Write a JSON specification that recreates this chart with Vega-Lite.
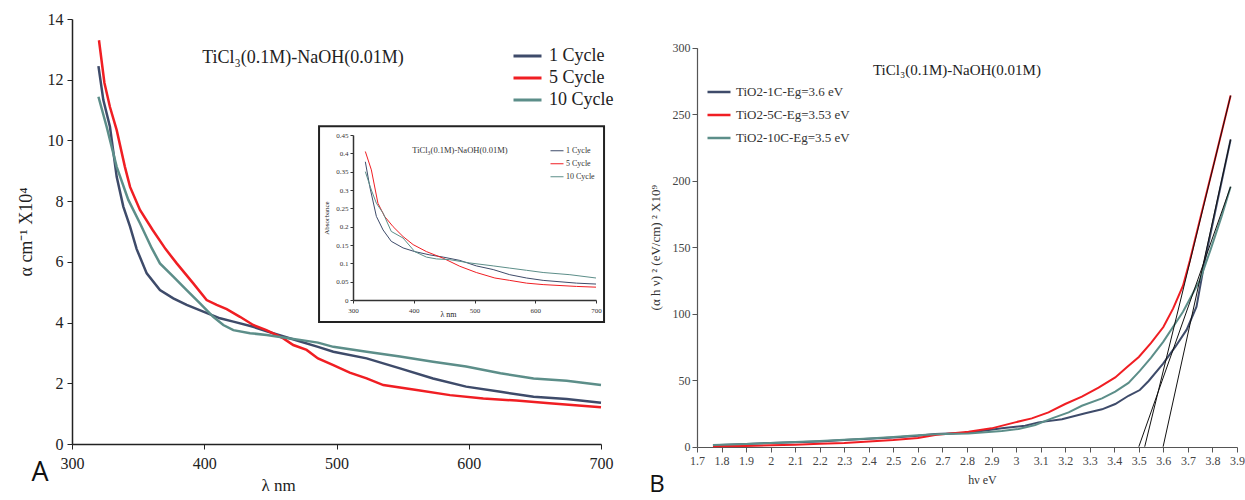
{
  "$schema": "https://vega.github.io/schema/vega-lite/v6.json",
  "width": 1245,
  "height": 500,
  "autosize": "none",
  "padding": 0,
  "background": "white",
  "config": {"view": {"stroke": null}, "font": "Liberation Serif, serif", "axis": {"grid": false, "labelFlush": false}},
  "datasets": {
    "A": [
      {"s":"1 Cycle","x":320,"y":12.45},{"s":"1 Cycle","x":323.7,"y":11.33},{"s":"1 Cycle","x":328.7,"y":10.45},{"s":"1 Cycle","x":333.8,"y":8.8},{"s":"1 Cycle","x":338.8,"y":7.82},{"s":"1 Cycle","x":343.9,"y":7.16},{"s":"1 Cycle","x":348.9,"y":6.42},{"s":"1 Cycle","x":356.5,"y":5.62},{"s":"1 Cycle","x":366.5,"y":5.07},{"s":"1 Cycle","x":376.6,"y":4.8},{"s":"1 Cycle","x":386.7,"y":4.58},{"s":"1 Cycle","x":399.3,"y":4.36},{"s":"1 Cycle","x":411.9,"y":4.14},{"s":"1 Cycle","x":422,"y":4.03},{"s":"1 Cycle","x":437,"y":3.86},{"s":"1 Cycle","x":452,"y":3.65},{"s":"1 Cycle","x":467,"y":3.45},{"s":"1 Cycle","x":486,"y":3.2},{"s":"1 Cycle","x":497.6,"y":3.04},{"s":"1 Cycle","x":522.8,"y":2.82},{"s":"1 Cycle","x":548,"y":2.49},{"s":"1 Cycle","x":573,"y":2.16},{"s":"1 Cycle","x":598,"y":1.89},{"s":"1 Cycle","x":624,"y":1.72},{"s":"1 Cycle","x":649,"y":1.56},{"s":"1 Cycle","x":674,"y":1.48},{"s":"1 Cycle","x":700,"y":1.36},
      {"s":"5 Cycle","x":320.4,"y":13.3},{"s":"5 Cycle","x":324.5,"y":11.9},{"s":"5 Cycle","x":328.7,"y":11.1},{"s":"5 Cycle","x":333.8,"y":10.34},{"s":"5 Cycle","x":340,"y":9.13},{"s":"5 Cycle","x":343.9,"y":8.47},{"s":"5 Cycle","x":351.4,"y":7.71},{"s":"5 Cycle","x":361,"y":7.05},{"s":"5 Cycle","x":370.8,"y":6.42},{"s":"5 Cycle","x":379.2,"y":5.95},{"s":"5 Cycle","x":391.7,"y":5.29},{"s":"5 Cycle","x":401.8,"y":4.74},{"s":"5 Cycle","x":409.4,"y":4.58},{"s":"5 Cycle","x":417,"y":4.44},{"s":"5 Cycle","x":427,"y":4.19},{"s":"5 Cycle","x":437,"y":3.92},{"s":"5 Cycle","x":447,"y":3.75},{"s":"5 Cycle","x":459.8,"y":3.48},{"s":"5 Cycle","x":467.3,"y":3.26},{"s":"5 Cycle","x":477.4,"y":3.1},{"s":"5 Cycle","x":486,"y":2.82},{"s":"5 Cycle","x":497.6,"y":2.6},{"s":"5 Cycle","x":510,"y":2.35},{"s":"5 Cycle","x":522.8,"y":2.16},{"s":"5 Cycle","x":535.4,"y":1.94},{"s":"5 Cycle","x":560.6,"y":1.78},{"s":"5 Cycle","x":585.8,"y":1.61},{"s":"5 Cycle","x":611,"y":1.5},{"s":"5 Cycle","x":636,"y":1.43},{"s":"5 Cycle","x":661,"y":1.34},{"s":"5 Cycle","x":700,"y":1.21},
      {"s":"10 Cycle","x":320,"y":11.44},{"s":"10 Cycle","x":326.2,"y":10.45},{"s":"10 Cycle","x":333.8,"y":9.13},{"s":"10 Cycle","x":342.6,"y":8.04},{"s":"10 Cycle","x":351.4,"y":7.27},{"s":"10 Cycle","x":360.3,"y":6.45},{"s":"10 Cycle","x":366.5,"y":5.95},{"s":"10 Cycle","x":376.6,"y":5.51},{"s":"10 Cycle","x":386.7,"y":5.07},{"s":"10 Cycle","x":396.8,"y":4.63},{"s":"10 Cycle","x":406.8,"y":4.19},{"s":"10 Cycle","x":414.4,"y":3.92},{"s":"10 Cycle","x":422,"y":3.75},{"s":"10 Cycle","x":434.6,"y":3.65},{"s":"10 Cycle","x":447.2,"y":3.59},{"s":"10 Cycle","x":459.8,"y":3.51},{"s":"10 Cycle","x":472.4,"y":3.43},{"s":"10 Cycle","x":486,"y":3.34},{"s":"10 Cycle","x":497.6,"y":3.2},{"s":"10 Cycle","x":522.8,"y":3.04},{"s":"10 Cycle","x":548,"y":2.88},{"s":"10 Cycle","x":573,"y":2.71},{"s":"10 Cycle","x":598,"y":2.55},{"s":"10 Cycle","x":624,"y":2.33},{"s":"10 Cycle","x":649,"y":2.16},{"s":"10 Cycle","x":674,"y":2.08},{"s":"10 Cycle","x":700,"y":1.94}
    ],
    "inset": [
      {"s":"1 Cycle","x":320.3,"y":0.377},{"s":"1 Cycle","x":327.5,"y":0.31},{"s":"1 Cycle","x":338.5,"y":0.228},{"s":"1 Cycle","x":349.5,"y":0.191},{"s":"1 Cycle","x":363,"y":0.16},{"s":"1 Cycle","x":382.4,"y":0.142},{"s":"1 Cycle","x":401.6,"y":0.132},{"s":"1 Cycle","x":426.4,"y":0.123},{"s":"1 Cycle","x":448.4,"y":0.117},{"s":"1 Cycle","x":475.8,"y":0.108},{"s":"1 Cycle","x":503,"y":0.093},{"s":"1 Cycle","x":530.8,"y":0.083},{"s":"1 Cycle","x":558,"y":0.069},{"s":"1 Cycle","x":585.7,"y":0.06},{"s":"1 Cycle","x":613,"y":0.0535},{"s":"1 Cycle","x":668,"y":0.046},{"s":"1 Cycle","x":700,"y":0.0435},
      {"s":"5 Cycle","x":320.3,"y":0.405},{"s":"5 Cycle","x":330.2,"y":0.355},{"s":"5 Cycle","x":341,"y":0.264},{"s":"5 Cycle","x":352,"y":0.228},{"s":"5 Cycle","x":366,"y":0.2},{"s":"5 Cycle","x":382.4,"y":0.173},{"s":"5 Cycle","x":399,"y":0.151},{"s":"5 Cycle","x":420.9,"y":0.132},{"s":"5 Cycle","x":448.4,"y":0.114},{"s":"5 Cycle","x":475.8,"y":0.092},{"s":"5 Cycle","x":503,"y":0.075},{"s":"5 Cycle","x":533.5,"y":0.06},{"s":"5 Cycle","x":558,"y":0.0535},{"s":"5 Cycle","x":585.7,"y":0.046},{"s":"5 Cycle","x":613,"y":0.042},{"s":"5 Cycle","x":668,"y":0.037},{"s":"5 Cycle","x":700,"y":0.035},
      {"s":"10 Cycle","x":320.3,"y":0.35},{"s":"10 Cycle","x":330.2,"y":0.3},{"s":"10 Cycle","x":338.5,"y":0.264},{"s":"10 Cycle","x":349.5,"y":0.237},{"s":"10 Cycle","x":363,"y":0.187},{"s":"10 Cycle","x":382.4,"y":0.169},{"s":"10 Cycle","x":401.6,"y":0.132},{"s":"10 Cycle","x":420.9,"y":0.117},{"s":"10 Cycle","x":437.4,"y":0.112},{"s":"10 Cycle","x":459.3,"y":0.11},{"s":"10 Cycle","x":492.3,"y":0.101},{"s":"10 Cycle","x":530.8,"y":0.093},{"s":"10 Cycle","x":558,"y":0.087},{"s":"10 Cycle","x":585.7,"y":0.081},{"s":"10 Cycle","x":613,"y":0.075},{"s":"10 Cycle","x":657,"y":0.069},{"s":"10 Cycle","x":700,"y":0.06}
    ],
    "B": [
      {"s":"TiO2-1C-Eg=3.6 eV","x":1.765,"y":1.0},{"s":"TiO2-1C-Eg=3.6 eV","x":1.9,"y":2.0},{"s":"TiO2-1C-Eg=3.6 eV","x":2.0,"y":2.8},{"s":"TiO2-1C-Eg=3.6 eV","x":2.1,"y":3.3},{"s":"TiO2-1C-Eg=3.6 eV","x":2.2,"y":4.0},{"s":"TiO2-1C-Eg=3.6 eV","x":2.3,"y":5.0},{"s":"TiO2-1C-Eg=3.6 eV","x":2.4,"y":6.0},{"s":"TiO2-1C-Eg=3.6 eV","x":2.5,"y":7.0},{"s":"TiO2-1C-Eg=3.6 eV","x":2.6,"y":8.3},{"s":"TiO2-1C-Eg=3.6 eV","x":2.67,"y":9.5},{"s":"TiO2-1C-Eg=3.6 eV","x":2.806,"y":10.5},{"s":"TiO2-1C-Eg=3.6 eV","x":2.942,"y":13.8},{"s":"TiO2-1C-Eg=3.6 eV","x":3.037,"y":15.8},{"s":"TiO2-1C-Eg=3.6 eV","x":3.091,"y":18.3},{"s":"TiO2-1C-Eg=3.6 eV","x":3.187,"y":20.6},{"s":"TiO2-1C-Eg=3.6 eV","x":3.282,"y":25.1},{"s":"TiO2-1C-Eg=3.6 eV","x":3.35,"y":28.1},{"s":"TiO2-1C-Eg=3.6 eV","x":3.404,"y":32.1},{"s":"TiO2-1C-Eg=3.6 eV","x":3.458,"y":38.3},{"s":"TiO2-1C-Eg=3.6 eV","x":3.504,"y":42.6},{"s":"TiO2-1C-Eg=3.6 eV","x":3.54,"y":49.4},{"s":"TiO2-1C-Eg=3.6 eV","x":3.599,"y":62.5},{"s":"TiO2-1C-Eg=3.6 eV","x":3.649,"y":75.2},{"s":"TiO2-1C-Eg=3.6 eV","x":3.695,"y":88},{"s":"TiO2-1C-Eg=3.6 eV","x":3.735,"y":105.3},{"s":"TiO2-1C-Eg=3.6 eV","x":3.769,"y":140},{"s":"TiO2-1C-Eg=3.6 eV","x":3.823,"y":187},{"s":"TiO2-1C-Eg=3.6 eV","x":3.874,"y":231},
      {"s":"TiO2-5C-Eg=3.53 eV","x":1.765,"y":0.3},{"s":"TiO2-5C-Eg=3.53 eV","x":1.9,"y":0.6},{"s":"TiO2-5C-Eg=3.53 eV","x":2.0,"y":1.0},{"s":"TiO2-5C-Eg=3.53 eV","x":2.1,"y":1.4},{"s":"TiO2-5C-Eg=3.53 eV","x":2.2,"y":2.2},{"s":"TiO2-5C-Eg=3.53 eV","x":2.3,"y":2.8},{"s":"TiO2-5C-Eg=3.53 eV","x":2.4,"y":4.0},{"s":"TiO2-5C-Eg=3.53 eV","x":2.5,"y":5.0},{"s":"TiO2-5C-Eg=3.53 eV","x":2.6,"y":6.5},{"s":"TiO2-5C-Eg=3.53 eV","x":2.67,"y":8.8},{"s":"TiO2-5C-Eg=3.53 eV","x":2.806,"y":11.3},{"s":"TiO2-5C-Eg=3.53 eV","x":2.9,"y":13.8},{"s":"TiO2-5C-Eg=3.53 eV","x":2.996,"y":18.3},{"s":"TiO2-5C-Eg=3.53 eV","x":3.064,"y":21.3},{"s":"TiO2-5C-Eg=3.53 eV","x":3.132,"y":25.8},{"s":"TiO2-5C-Eg=3.53 eV","x":3.2,"y":32.1},{"s":"TiO2-5C-Eg=3.53 eV","x":3.268,"y":37.6},{"s":"TiO2-5C-Eg=3.53 eV","x":3.336,"y":44.4},{"s":"TiO2-5C-Eg=3.53 eV","x":3.404,"y":52.1},{"s":"TiO2-5C-Eg=3.53 eV","x":3.45,"y":59.5},{"s":"TiO2-5C-Eg=3.53 eV","x":3.5,"y":67.5},{"s":"TiO2-5C-Eg=3.53 eV","x":3.55,"y":78},{"s":"TiO2-5C-Eg=3.53 eV","x":3.6,"y":90},{"s":"TiO2-5C-Eg=3.53 eV","x":3.64,"y":104},{"s":"TiO2-5C-Eg=3.53 eV","x":3.68,"y":121},{"s":"TiO2-5C-Eg=3.53 eV","x":3.708,"y":140},{"s":"TiO2-5C-Eg=3.53 eV","x":3.756,"y":176},{"s":"TiO2-5C-Eg=3.53 eV","x":3.81,"y":216},{"s":"TiO2-5C-Eg=3.53 eV","x":3.874,"y":264},
      {"s":"TiO2-10C-Eg=3.5 eV","x":1.765,"y":1.2},{"s":"TiO2-10C-Eg=3.5 eV","x":1.9,"y":2.0},{"s":"TiO2-10C-Eg=3.5 eV","x":2.0,"y":2.8},{"s":"TiO2-10C-Eg=3.5 eV","x":2.1,"y":3.5},{"s":"TiO2-10C-Eg=3.5 eV","x":2.2,"y":4.3},{"s":"TiO2-10C-Eg=3.5 eV","x":2.3,"y":5.3},{"s":"TiO2-10C-Eg=3.5 eV","x":2.4,"y":6.2},{"s":"TiO2-10C-Eg=3.5 eV","x":2.5,"y":7.3},{"s":"TiO2-10C-Eg=3.5 eV","x":2.6,"y":8.6},{"s":"TiO2-10C-Eg=3.5 eV","x":2.67,"y":9.3},{"s":"TiO2-10C-Eg=3.5 eV","x":2.806,"y":10.0},{"s":"TiO2-10C-Eg=3.5 eV","x":2.942,"y":11.8},{"s":"TiO2-10C-Eg=3.5 eV","x":3.01,"y":13.3},{"s":"TiO2-10C-Eg=3.5 eV","x":3.078,"y":16.3},{"s":"TiO2-10C-Eg=3.5 eV","x":3.146,"y":21.3},{"s":"TiO2-10C-Eg=3.5 eV","x":3.214,"y":25.8},{"s":"TiO2-10C-Eg=3.5 eV","x":3.268,"y":30.8},{"s":"TiO2-10C-Eg=3.5 eV","x":3.35,"y":36.3},{"s":"TiO2-10C-Eg=3.5 eV","x":3.404,"y":41.4},{"s":"TiO2-10C-Eg=3.5 eV","x":3.458,"y":48},{"s":"TiO2-10C-Eg=3.5 eV","x":3.504,"y":57},{"s":"TiO2-10C-Eg=3.5 eV","x":3.55,"y":67},{"s":"TiO2-10C-Eg=3.5 eV","x":3.6,"y":79},{"s":"TiO2-10C-Eg=3.5 eV","x":3.68,"y":101.5},{"s":"TiO2-10C-Eg=3.5 eV","x":3.749,"y":125.3},{"s":"TiO2-10C-Eg=3.5 eV","x":3.792,"y":148},{"s":"TiO2-10C-Eg=3.5 eV","x":3.837,"y":173},{"s":"TiO2-10C-Eg=3.5 eV","x":3.874,"y":195.5}
    ],
    "tangent": [
      {"s":"1C","x":3.599,"y":0},{"s":"1C","x":3.874,"y":231},
      {"s":"5C","x":3.524,"y":0},{"s":"5C","x":3.874,"y":264},
      {"s":"10C","x":3.5,"y":0},{"s":"10C","x":3.874,"y":195.5}
    ]
  },
  "resolve": {"scale": {"x": "independent", "y": "independent", "color": "independent"}},
  "layer": [
    {
      "layer": [
        {
          "data": {"name": "A"},
          "mark": {"type": "line", "strokeWidth": 2.5},
          "encoding": {
            "x": {"field": "x", "type": "quantitative",
              "scale": {"domain": [300, 700], "range": [72, 601], "nice": false, "zero": false},
              "axis": {"orient": "bottom", "offset": -56, "labelFlush": false, "values": [300, 400, 500, 600, 700], "title": "λ nm", "titleX": 278, "titleY": 33, "titleBaseline": "top", "titleFont": "Liberation Serif, serif", "titleFontSize": 17, "titleFontWeight": "normal", "titleColor": "#222", "labelFont": "Liberation Serif, serif", "labelFontSize": 16, "labelColor": "#222", "labelPadding": 6, "tickSize": 5, "tickColor": "#222", "domainColor": "#222", "domainWidth": 1.5, "grid": false}},
            "y": {"field": "y", "type": "quantitative",
              "scale": {"domain": [0, 14], "range": [444, 19], "nice": false, "zero": false},
              "axis": {"orient": "left", "offset": -72, "labelFlush": false, "values": [0, 2, 4, 6, 8, 10, 12, 14], "title": "α  cm⁻¹  X10⁴", "titlePadding": 12, "titleFont": "Liberation Serif, serif", "titleFontSize": 18, "titleFontWeight": "normal", "titleColor": "#222", "labelFont": "Liberation Serif, serif", "labelFontSize": 16, "labelColor": "#222", "labelPadding": 4, "tickSize": 5, "tickColor": "#222", "domainColor": "#222", "domainWidth": 1.5, "grid": false}},
            "color": {"field": "s", "type": "nominal",
              "scale": {"domain": ["1 Cycle", "5 Cycle", "10 Cycle"], "range": ["#3E4B6A", "#F01E23", "#5C8E89"]},
              "legend": {"orient": "none", "legendX": 512, "legendY": 45, "title": null, "padding": 0, "symbolType": "stroke", "symbolSize": 784, "symbolStrokeWidth": 3, "labelFont": "Liberation Serif, serif", "labelFontSize": 18, "labelFontWeight": "normal", "labelColor": "#222", "clipHeight": 22, "rowPadding": 0, "labelOffset": 6}}
          }
        },
        {
          "data": {"values": [{"x": 486.8, "x2": 702.3, "y": 4.02, "y2": 10.47}]},
          "mark": {"type": "rect", "fill": "white", "stroke": "#222", "strokeWidth": 2},
          "encoding": {
            "x": {"field": "x", "type": "quantitative"},
            "x2": {"field": "x2"},
            "y": {"field": "y", "type": "quantitative"},
            "y2": {"field": "y2"}
          }
        },
        {
          "data": {"values": [{"x": 474.7, "y": 12.71, "t": "TiCl₃(0.1M)-NaOH(0.01M)"}]},
          "mark": {"type": "text", "font": "Liberation Serif, serif", "fontSize": 18, "color": "#222", "align": "center", "baseline": "middle"},
          "encoding": {
            "x": {"field": "x", "type": "quantitative"},
            "y": {"field": "y", "type": "quantitative"},
            "text": {"field": "t"}
          }
        },
        {
          "data": {"values": [{"x": 275.8, "y": -0.95, "t": "A"}]},
          "mark": {"type": "text", "font": "Open Sans", "fontSize": 27, "color": "#111", "align": "center", "baseline": "middle"},
          "encoding": {
            "x": {"field": "x", "type": "quantitative"},
            "y": {"field": "y", "type": "quantitative"},
            "text": {"field": "t"}
          }
        }
      ]
    },
    {
      "layer": [
        {
          "data": {"name": "inset"},
          "mark": {"type": "line", "strokeWidth": 1},
          "encoding": {
            "x": {"field": "x", "type": "quantitative",
              "scale": {"domain": [300, 700], "range": [353, 596], "nice": false, "zero": false},
              "axis": {"orient": "bottom", "offset": -200, "zindex": 1, "labelFlush": false, "values": [300, 400, 500, 600, 700], "title": "λ nm", "titleX": 448, "titleY": 10, "titleBaseline": "top", "titleFont": "Liberation Serif, serif", "titleFontSize": 8, "titleFontWeight": "normal", "titleColor": "#222", "labelFont": "Liberation Serif, serif", "labelFontSize": 7, "labelColor": "#333", "labelPadding": 3, "tickSize": 3, "tickColor": "#333", "domainColor": "#333", "domainWidth": 1.5, "grid": false}},
            "y": {"field": "y", "type": "quantitative",
              "scale": {"domain": [0, 0.45], "range": [300, 135], "nice": false, "zero": false},
              "axis": {"orient": "left", "offset": -353, "zindex": 1, "labelFlush": false, "values": [0, 0.05, 0.1, 0.15, 0.2, 0.25, 0.3, 0.35, 0.4, 0.45], "format": "~g", "title": "Absorbance", "titlePadding": 6, "titleFont": "Liberation Serif, serif", "titleFontSize": 7, "titleFontWeight": "normal", "titleColor": "#222", "labelFont": "Liberation Serif, serif", "labelFontSize": 7, "labelColor": "#333", "labelPadding": 2, "tickSize": 3, "tickColor": "#333", "domainColor": "#333", "domainWidth": 1.5, "grid": false}},
            "color": {"field": "s", "type": "nominal",
              "scale": {"domain": ["1 Cycle", "5 Cycle", "10 Cycle"], "range": ["#3E4B6A", "#F01E23", "#5C8E89"]},
              "legend": {"orient": "none", "legendX": 550, "legendY": 144.5, "title": null, "padding": 0, "symbolType": "stroke", "symbolSize": 169, "symbolStrokeWidth": 1, "labelFont": "Liberation Serif, serif", "labelFontSize": 8, "labelColor": "#333", "clipHeight": 12.5, "rowPadding": 0, "labelOffset": 2}}
          }
        },
        {
          "data": {"values": [{"x": 476, "y": 0.41, "t": "TiCl₃(0.1M)-NaOH(0.01M)"}]},
          "mark": {"type": "text", "font": "Liberation Serif, serif", "fontSize": 8.5, "color": "#333", "align": "center", "baseline": "middle"},
          "encoding": {
            "x": {"field": "x", "type": "quantitative"},
            "y": {"field": "y", "type": "quantitative"},
            "text": {"field": "t"}
          }
        }
      ]
    },
    {
      "layer": [
        {
          "data": {"name": "B"},
          "mark": {"type": "line", "strokeWidth": 2},
          "encoding": {
            "x": {"field": "x", "type": "quantitative",
              "scale": {"domain": [1.7, 3.9], "range": [697, 1237], "nice": false, "zero": false},
              "axis": {"orient": "bottom", "offset": -53, "labelFlush": false, "values": [1.7, 1.8, 1.9, 2, 2.1, 2.2, 2.3, 2.4, 2.5, 2.6, 2.7, 2.8, 2.9, 3, 3.1, 3.2, 3.3, 3.4, 3.5, 3.6, 3.7, 3.8, 3.9], "format": "~g", "title": "hν eV", "titleX": 982, "titleY": 27, "titleBaseline": "top", "titleFont": "Liberation Serif, serif", "titleFontSize": 12, "titleFontWeight": "normal", "titleColor": "#333", "labelFont": "Liberation Serif, serif", "labelFontSize": 12, "labelColor": "#444", "labelPadding": 3, "tickSize": 5, "tickColor": "#555", "domainColor": "#555", "domainWidth": 1.2, "grid": false}},
            "y": {"field": "y", "type": "quantitative",
              "scale": {"domain": [0, 300], "range": [446.7, 47.7], "nice": false, "zero": false},
              "axis": {"orient": "left", "offset": -697, "labelFlush": false, "values": [0, 50, 100, 150, 200, 250, 300], "title": "(α h ν) ²  (eV/cm) ²  X10⁹", "titlePadding": 10, "titleFont": "Liberation Serif, serif", "titleFontSize": 13, "titleFontWeight": "normal", "titleColor": "#333", "labelFont": "Liberation Serif, serif", "labelFontSize": 12, "labelColor": "#444", "labelPadding": 2, "tickSize": 5, "tickColor": "#555", "domainColor": "#555", "domainWidth": 1.2, "grid": false}},
            "color": {"field": "s", "type": "nominal",
              "scale": {"domain": ["TiO2-1C-Eg=3.6 eV", "TiO2-5C-Eg=3.53 eV", "TiO2-10C-Eg=3.5 eV"], "range": ["#3E4B6A", "#F01E23", "#5C8E89"]},
              "legend": {"orient": "none", "legendX": 706, "legendY": 80.5, "title": null, "padding": 0, "symbolType": "stroke", "symbolSize": 529, "symbolStrokeWidth": 2.5, "labelFont": "Liberation Serif, serif", "labelFontSize": 13, "labelColor": "#333", "clipHeight": 23, "rowPadding": 0, "labelOffset": 4}}
          }
        },
        {
          "data": {"name": "tangent"},
          "mark": {"type": "line", "strokeWidth": 1, "color": "#111"},
          "encoding": {
            "x": {"field": "x", "type": "quantitative"},
            "y": {"field": "y", "type": "quantitative"},
            "detail": {"field": "s"}
          }
        },
        {
          "data": {"values": [{"x": 2.759, "y": 283.2, "t": "TiCl₃(0.1M)-NaOH(0.01M)"}]},
          "mark": {"type": "text", "font": "Liberation Serif, serif", "fontSize": 15, "color": "#222", "align": "center", "baseline": "middle"},
          "encoding": {
            "x": {"field": "x", "type": "quantitative"},
            "y": {"field": "y", "type": "quantitative"},
            "text": {"field": "t"}
          }
        },
        {
          "data": {"values": [{"x": 1.537, "y": -29, "t": "B"}]},
          "mark": {"type": "text", "font": "Open Sans", "fontSize": 24, "color": "#111", "align": "center", "baseline": "middle"},
          "encoding": {
            "x": {"field": "x", "type": "quantitative"},
            "y": {"field": "y", "type": "quantitative"},
            "text": {"field": "t"}
          }
        }
      ]
    }
  ]
}
